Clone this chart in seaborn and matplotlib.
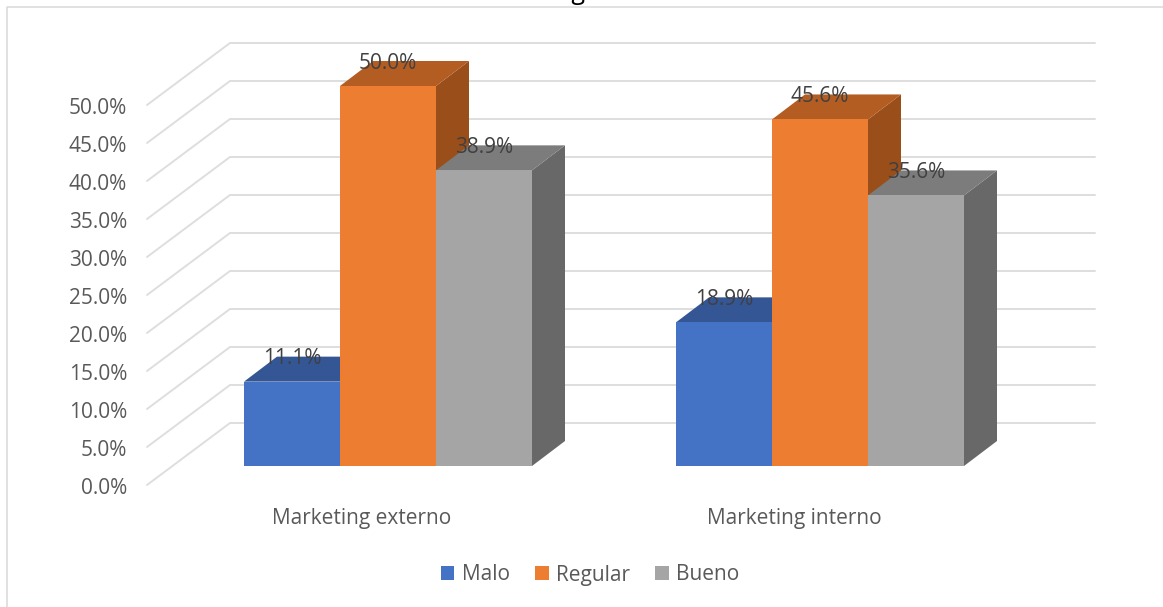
import matplotlib
matplotlib.use("Agg")
import matplotlib.pyplot as plt
from matplotlib.lines import Line2D
from matplotlib.patches import Polygon
import pandas as pd
import seaborn as sns

categories = ["Marketing externo", "Marketing interno"]
levels = ["Malo", "Regular", "Bueno"]
malo = [11.1, 18.9]
regular = [50.0, 45.6]
bueno = [38.9, 35.6]
axis_ticks = [0, 5, 10, 15, 20, 25, 30, 35, 40, 45, 50]

front_colors = ["#4472C4", "#ED7D31", "#A5A5A5"]
top_colors = ["#345694", "#B35D23", "#7C7C7C"]
side_colors = ["#2C4A80", "#9A4F1B", "#686868"]
grid_color = "#DEDEDE"
text_color = "#595959"
label_color = "#404040"
FONT = 15

W, H = 1163, 607
AX_L, AX_R, AX_T, AX_B = 132, 1110, 20, 500   # axes box, px
X0, X_UNIT = 388, 432                          # px of first category, px per category
Y0, Y_UNIT = 466, 7.6                          # px of zero, px per percent

# oblique projection of the box depth, in data units
DX, DY = 33 / X_UNIT, 25 / Y_UNIT
FLOOR_DY = -19 / Y_UNIT
TICK_DY = -20 / Y_UNIT
WALL_DY = 43 / Y_UNIT
WALL_X0 = (230 - X0) / X_UNIT
WALL_X1 = (1095 - X0) / X_UNIT
FLOOR_X0 = (147 - X0) / X_UNIT

sns.set_theme(style="white")
plt.rcParams["font.family"] = ["Open Sans", "DejaVu Sans"]

df = pd.DataFrame({
    "categoria": categories * 3,
    "nivel": [n for n in levels for _ in categories],
    "valor": malo + regular + bueno,
})

fig = plt.figure(figsize=(W / 100, H / 100), dpi=100)
ax = fig.add_axes([AX_L / W, 1 - AX_B / H, (AX_R - AX_L) / W, (AX_B - AX_T) / H])

sns.barplot(data=df, x="categoria", y="valor", hue="nivel", order=categories,
            hue_order=levels, palette=front_colors, saturation=1, width=2 / 3,
            gap=0, errorbar=None, linewidth=0, ax=ax)

ax.set_xlim((AX_L - X0) / X_UNIT, (AX_R - X0) / X_UNIT)
ax.set_ylim((Y0 - AX_B) / Y_UNIT, (Y0 - AX_T) / Y_UNIT)

# back wall and floor gridlines
for v in axis_ticks:
    ax.plot([FLOOR_X0, WALL_X0, WALL_X1],
            [v + FLOOR_DY, v + WALL_DY, v + WALL_DY],
            color=grid_color, lw=1.4, zorder=1, solid_joinstyle="miter")

# extruded faces and value labels
for i, container in enumerate(ax.containers):
    for bar in container:
        x, w, h = bar.get_x(), bar.get_width(), bar.get_height()
        bar.set_zorder(4 + i + 0.2)
        ax.add_patch(Polygon([(x + w, 0), (x + w + DX, DY), (x + w + DX, h + DY), (x + w, h)],
                             closed=True, fc=side_colors[i], ec="none", zorder=4 + i))
        ax.add_patch(Polygon([(x, h), (x + DX, h + DY), (x + w + DX, h + DY), (x + w, h)],
                             closed=True, fc=top_colors[i], ec="none", zorder=4 + i + 0.1))
        ax.annotate(f"{h:.1f}%", (x + w / 2, h + DY), xytext=(0, -1.5), textcoords="offset points",
                    ha="center", va="center", fontsize=FONT, color=label_color, zorder=10)

# axis labels sit on the front edge of the floor projection
ax.set_yticks([v + TICK_DY for v in axis_ticks])
ax.set_yticklabels([f"{v:.1f}%" for v in axis_ticks])
ax.set_xticks([-0.06, 0.94])
ax.set_xticklabels(categories)
ax.tick_params(axis="y", length=0, pad=3.5, labelsize=FONT, labelcolor=text_color)
ax.tick_params(axis="x", length=0, pad=5.5, labelsize=FONT, labelcolor=text_color)
ax.set_xlabel("")
ax.set_ylabel("")
sns.despine(ax=ax, left=True, bottom=True)

handles, labels = ax.get_legend_handles_labels()
ax.legend(handles, labels, ncol=3, loc="center", frameon=False,
          bbox_to_anchor=(590 / W, 1 - 575 / H), bbox_transform=fig.transFigure,
          fontsize=FONT, labelcolor=text_color, handlelength=0.67, handleheight=0.67,
          handletextpad=0.35, columnspacing=1.2, borderpad=0)

# chart frame, open at the bottom and right like the exported crop
fig.add_artist(Line2D([7 / W, 7 / W, 1], [0, 1 - 7 / H, 1 - 7 / H],
                      color="#D9D9D9", lw=1.1, transform=fig.transFigure))

# title runs off the top edge, only its descender shows
fig.text(586 / W, 1 + 1.0 / H, "Marketing", ha="right", va="baseline",
         fontsize=18, color="#000000")

fig.savefig("out.png", dpi=100)
